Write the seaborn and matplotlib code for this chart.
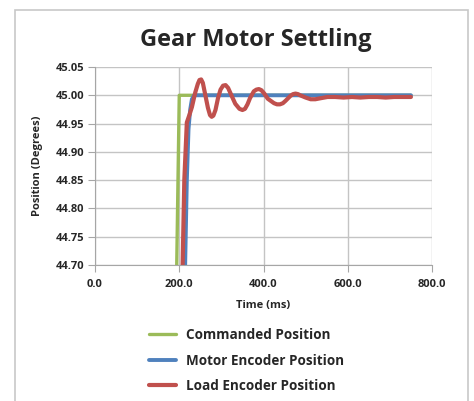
import matplotlib.pyplot as plt
from matplotlib.patches import Rectangle
from matplotlib.ticker import FormatStrFormatter
import seaborn as sns
import pandas as pd

# time (ms) and position (degrees)
t_cmd = [194, 200, 750]
cmd = [44.70, 45.00, 45.00]

t_motor = [214, 218, 222, 226, 230, 235, 750]
motor = [44.70, 44.85, 44.94, 44.975, 44.993, 45.00, 45.00]

t_load = [208, 212, 218, 224, 230, 238, 244, 248, 252, 256, 262, 268, 273, 277, 281, 286,
          292, 298, 304, 310, 316, 322, 333, 343, 350, 356, 362, 368, 377, 383, 389, 395,
          402, 410, 425, 432, 439, 446, 452, 464, 470, 476, 482, 487, 500, 512, 523, 537,
          552, 570, 590, 610, 630, 650, 670, 690, 710, 730, 750]
load = [44.70, 44.85, 44.952, 44.965, 44.979, 45.005, 45.02, 45.027, 45.028, 45.022, 45.0,
        44.978, 44.965, 44.962, 44.964, 44.974, 44.995, 45.01, 45.017, 45.018, 45.013, 45.003,
        44.985, 44.976, 44.974, 44.976, 44.984, 44.995, 45.007, 45.01, 45.011, 45.009, 45.003,
        44.994, 44.986, 44.984, 44.984, 44.986, 44.99, 44.999, 45.002, 45.003, 45.002, 45.0,
        44.996, 44.993, 44.993, 44.995, 44.997, 44.997, 44.996, 44.997, 44.996, 44.997,
        44.997, 44.996, 44.997, 44.997, 44.997]

sns.set_style("white")
plt.rcParams['font.family'] = ['Open Sans', 'DejaVu Sans']

fig = plt.figure(figsize=(4.74, 4.01), dpi=100)
ax = fig.add_axes([95 / 474, 1 - 265 / 401, 337 / 474, 198 / 401])

fig.patches.append(Rectangle((15 / 474, -0.05), 453 / 474, 1.05 - 10 / 401,
                             transform=fig.transFigure, fill=False,
                             edgecolor='#c8c8c8', linewidth=1.2))

sns.lineplot(x=t_cmd, y=cmd, ax=ax, color='#9BBB59', linewidth=2.4, sort=False,
             label='Commanded Position')
sns.lineplot(x=t_motor, y=motor, ax=ax, color='#4F81BD', linewidth=2.8, sort=False,
             label='Motor Encoder Position')
sns.lineplot(x=t_load, y=load, ax=ax, color='#C0504D', linewidth=3.0, sort=False,
             label='Load Encoder Position', solid_joinstyle='round')

ax.set_xlim(0, 800)
ax.set_ylim(44.70, 45.05)
ax.set_xticks([0, 200, 400, 600, 800])
ax.set_yticks([44.70, 44.75, 44.80, 44.85, 44.90, 44.95, 45.00, 45.05])
ax.xaxis.set_major_formatter(FormatStrFormatter('%.1f'))
ax.yaxis.set_major_formatter(FormatStrFormatter('%.2f'))
ax.grid(True, color='#c4c4c4', linewidth=1)
for s in ['top', 'right']:
    ax.spines[s].set_visible(False)
for s in ['left', 'bottom']:
    ax.spines[s].set_color('#a6a6a6')
ax.tick_params(axis='both', length=5, color='#a6a6a6', labelsize=8, pad=3,
               labelcolor='#262626', direction='out', bottom=True, left=True)
ax.tick_params(axis='x', pad=5)
for lab in ax.get_xticklabels() + ax.get_yticklabels():
    lab.set_fontweight('bold')

ax.set_xlabel('Time (ms)', fontsize=8, fontweight='bold', color='#262626', labelpad=7)
ax.set_ylabel('Position (Degrees)', fontsize=8, fontweight='bold', color='#262626', labelpad=9)
fig.text(0.54, 0.90, 'Gear Motor Settling', ha='center', va='center', fontsize=17,
         fontweight='bold', color='#262626')

ax.legend(loc='upper center', bbox_to_anchor=(0.52, 0.212), bbox_transform=fig.transFigure,
          frameon=False, handlelength=2.0, labelspacing=0.85, handletextpad=0.7,
          prop={'size': 9.75, 'weight': 'bold'}, labelcolor='#262626')

fig.savefig('out.png', dpi=100)
